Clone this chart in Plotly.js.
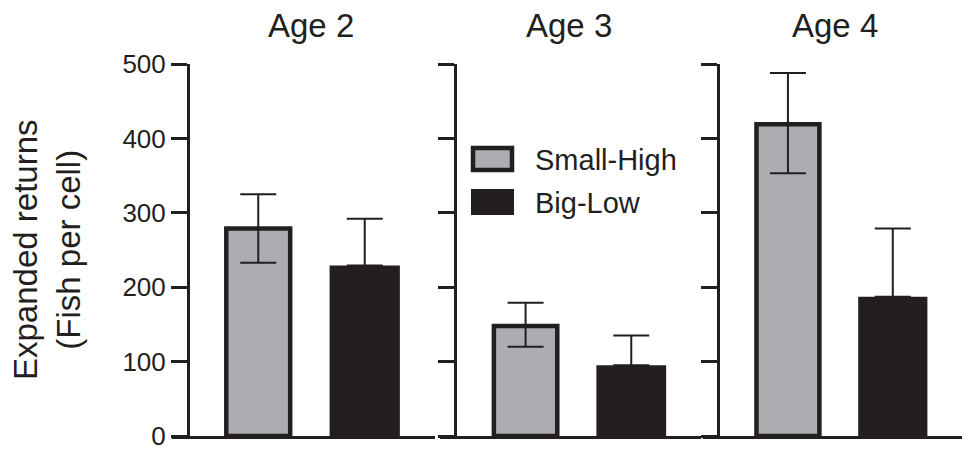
<!DOCTYPE html>
<html>
<head>
<meta charset="utf-8">
<script src="https://cdn.plot.ly/plotly-3.0.1.min.js"></script>
<style>html,body{margin:0;padding:0;background:#fff;}#chart{width:962px;height:450px;}</style>
</head>
<body>
<div id="chart"></div>
<script>
// ---- data ----
var panels = ["Age 2", "Age 3", "Age 4"];
var groups = ["Small-High", "Big-Low"];
var smallHigh = [279, 148, 419];
var smallHighErrPlus = [46, 31, 69];
var smallHighErrMinus = [46, 28, 66];
var bigLow = [229, 95, 187];
var bigLowErr = [63, 40, 92];
var yTicks = [0, 100, 200, 300, 400, 500];

// ---- layout helpers (pixel -> paper) ----
var W = 962, H = 450, SHIFT = 2, TOP = 66 - SHIFT, BOT = 438 - SHIFT;
function px(x) { return x / W; }
function py(y) { return (BOT - (y - SHIFT)) / (BOT - TOP); }

var INK = "#231f20", GRAY = "#abadb0";
var FONT = "Liberation Sans, Arial, Helvetica, sans-serif";

var xDomains = [[172, 435], [440, 701], [703, 962]];
var yPos = [188, 455, 718];
var titleX = [311, 569, 835];

var traces = [];
var layout = {
  width: W, height: H,
  margin: {l: 0, r: 0, t: TOP, b: H - BOT, pad: 0},
  paper_bgcolor: "#fff", plot_bgcolor: "rgba(0,0,0,0)",
  showlegend: false,
  font: {family: FONT, color: INK},
  annotations: [], shapes: []
};

for (var i = 0; i < 3; i++) {
  var sx = i === 0 ? "" : String(i + 1);
  traces.push({
    type: "bar", x: [0], y: [smallHigh[i]], width: 0.60, name: groups[0],
    xaxis: "x" + sx, yaxis: "y" + sx,
    marker: {color: GRAY, line: {color: INK, width: 4.5}},
    error_y: {type: "data", array: [smallHighErrPlus[i]], arrayminus: [smallHighErrMinus[i]],
              symmetric: false, color: INK, thickness: 2, width: 18},
    hoverinfo: "skip"
  });
  traces.push({
    type: "bar", x: [1], y: [bigLow[i]], width: 0.66, name: groups[1],
    xaxis: "x" + sx, yaxis: "y" + sx,
    marker: {color: INK, line: {width: 0}},
    error_y: {type: "data", array: [bigLowErr[i]], arrayminus: [0], symmetric: false,
              color: INK, thickness: 2, width: 18},
    hoverinfo: "skip"
  });
  layout["xaxis" + sx] = {
    domain: [px(xDomains[i][0]), px(xDomains[i][1])],
    range: [-0.81, 1.66], anchor: "y" + sx,
    showline: true, linecolor: INK, linewidth: 3,
    showgrid: false, zeroline: false, showticklabels: false, ticks: "",
    fixedrange: true
  };
  layout["yaxis" + sx] = {
    domain: [0, 1], range: [0, 500], anchor: "free", position: px(yPos[i]),
    showline: true, linecolor: INK, linewidth: 3,
    showgrid: false, zeroline: false,
    tickmode: "array", tickvals: yTicks, ticktext: yTicks.map(String),
    ticks: "outside", ticklen: 16, tickwidth: 3, tickcolor: INK,
    showticklabels: i === 0, ticklabeloverflow: "allow",
    tickfont: {family: FONT, size: 26, color: INK},
    fixedrange: true
  };
  layout.annotations.push({
    text: panels[i], xref: "paper", yref: "paper",
    x: px(titleX[i]), y: py(27), xanchor: "center", yanchor: "middle",
    showarrow: false, font: {family: FONT, size: 33, color: INK}
  });
}

// y-axis title
layout.annotations.push({
  text: "Expanded returns<br>(Fish per cell)", xref: "paper", yref: "paper",
  x: px(47), y: py(252), xanchor: "center", yanchor: "middle", textangle: -90,
  showarrow: false, font: {family: FONT, size: 33, color: INK}
});

// custom legend (boxes + labels)
layout.shapes.push({type: "rect", xref: "paper", yref: "paper",
  x0: px(473), x1: px(512), y0: py(150), y1: py(172),
  fillcolor: GRAY, line: {color: INK, width: 4.5}});
layout.shapes.push({type: "rect", xref: "paper", yref: "paper",
  x0: px(471), x1: px(514), y0: py(191), y1: py(217),
  fillcolor: INK, line: {color: INK, width: 0}});
layout.annotations.push({text: groups[0], xref: "paper", yref: "paper",
  x: px(533), y: py(162), xanchor: "left", yanchor: "middle", showarrow: false,
  font: {family: FONT, size: 29, color: INK}});
layout.annotations.push({text: groups[1], xref: "paper", yref: "paper",
  x: px(533), y: py(205), xanchor: "left", yanchor: "middle", showarrow: false,
  font: {family: FONT, size: 29, color: INK}});

Plotly.newPlot("chart", traces, layout, {staticPlot: true, displayModeBar: false});
</script>
</body>
</html>
